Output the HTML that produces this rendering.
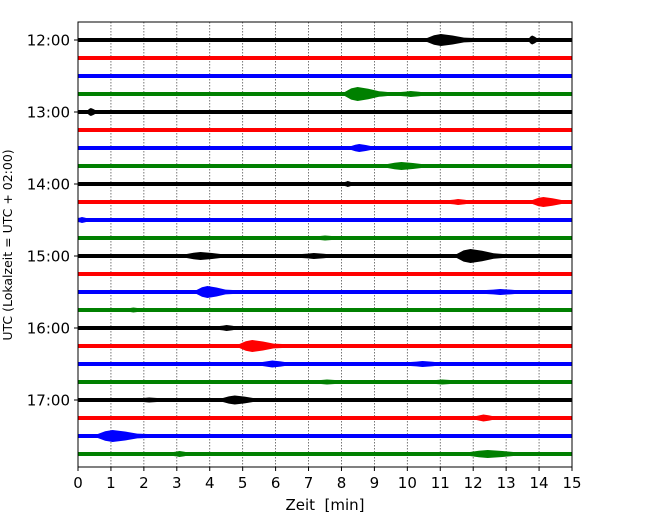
<!DOCTYPE html>
<html><head><meta charset="utf-8"><style>
html,body{margin:0;padding:0;background:#fff;}
svg{display:block;font-family:"DejaVu Sans","Liberation Sans",sans-serif;}
</style></head><body>
<svg id="c" width="650" height="520"></svg>
<script>
const xTicks=[0,1,2,3,4,5,6,7,8,9,10,11,12,13,14,15];
const hourLabels=["12:00","13:00","14:00","15:00","16:00","17:00"];
const traceColors=["#000000","#ff0000","#0000ff","#008000"];
const traceCount=24;
// events per trace: [start minute, duration minutes, amplitude px]
const traceEvents=[
[[10.6,1.4,12],[13.7,0.3,9]],
[],
[],
[[8.1,1.3,14],[9.8,1.0,6]],
[[0.3,0.3,8]],
[],
[[8.3,0.8,8]],
[[9.4,1.4,8]],
[[8.1,0.3,6]],
[[13.8,1.1,10],[11.3,0.8,6]],
[[0.0,0.4,6]],
[[7.2,1.0,5]],
[[11.5,1.4,14],[3.3,1.4,8],[6.8,1.2,6]],
[],
[[3.6,1.1,12],[12.4,1.4,6]],
[[1.5,0.6,5]],
[[4.3,0.7,6]],
[[4.9,1.3,12]],
[[5.6,1.0,7],[10.1,1.2,6]],
[[7.2,1.2,5],[10.7,1.2,5]],
[[4.4,1.2,9],[1.8,1.2,5]],
[[12.1,0.7,7]],
[[0.6,1.5,12]],
[[2.9,0.6,6],[11.9,1.8,8]]
];
const L=78,R=572,T=22,B=467,Y0=40,DY=18;
const xs=m=>L+(R-L)*m/15;
const ys=i=>Y0+i*DY;
const svg=document.getElementById('c');
const NS="http://www.w3.org/2000/svg";
function mk(t,a){const e=document.createElementNS(NS,t);for(const k in a)e.setAttribute(k,a[k]);svg.appendChild(e);return e;}
xTicks.forEach(t=>{if(t>0&&t<15){const g=mk('line',{x1:xs(t),x2:xs(t),y1:T,y2:B,stroke:'#555','stroke-width':0.8,'stroke-dasharray':'1.5,1.5'});

}});
for(let i=0;i<traceCount;i++){
 const col=traceColors[i%4],y=ys(i);
 const ln=mk('rect',{x:L,y:y-2,width:R-L,height:4,fill:col});
 
 
 traceEvents[i].forEach(ev=>{
  const x0=xs(ev[0]),x1=xs(Math.min(15,ev[0]+ev[1])),h=ev[2]/2,w=x1-x0;
  const a=x0+w*0.3,b=x0+w*0.55,c=x0+w*0.8;
  const p=mk('polygon',{points:`${x0},${y-2} ${x0+w*0.15},${y-h*0.8} ${a},${y-h} ${b},${y-h*0.75} ${c},${y-h*0.4} ${x1},${y-2} ${x1},${y+2} ${c},${y+h*0.4} ${b},${y+h*0.75} ${a},${y+h} ${x0+w*0.15},${y+h*0.8} ${x0},${y+2}`,fill:col});
  
  
 });
}
const fr=mk('rect',{x:L,y:T,width:R-L,height:B-T,fill:'none',stroke:'#000','stroke-width':1});


xTicks.forEach(t=>{
 mk('line',{x1:xs(t),x2:xs(t),y1:B,y2:B+4,stroke:'#000'});
 const tx=mk('text',{x:xs(t),y:B+21,'font-size':15,'text-anchor':'middle'});tx.textContent=t;
 
 
});
hourLabels.forEach((h,k)=>{
 const y=ys(k*4);
 mk('line',{x1:L-4,x2:L,y1:y,y2:y,stroke:'#000'});
 const tx=mk('text',{x:L-8,y:y+5.5,'font-size':15,'text-anchor':'end'});tx.textContent=h;
 
 
});
const xl=mk('text',{x:325,y:510,'font-size':15,'text-anchor':'middle',style:'white-space:pre'});xl.textContent="Zeit  [min]";


const yl=mk('text',{x:0,y:0,'font-size':12.5,'text-anchor':'middle',transform:'translate(12,245) rotate(-90)'});yl.textContent="UTC (Lokalzeit = UTC + 02:00)";


</script>
</body></html>
